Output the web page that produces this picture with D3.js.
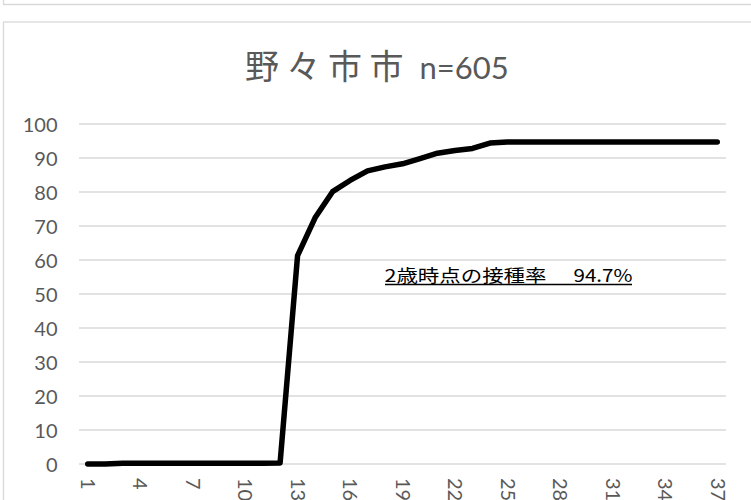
<!DOCTYPE html>
<html>
<head>
<meta charset="utf-8">
<script src="https://cdn.jsdelivr.net/npm/d3@7"></script>
<style>
  html, body { margin: 0; padding: 0; background: #fff; }
  svg { display: block; }
</style>
</head>
<body>
<svg id="chart" width="751" height="500"></svg>
<script>
// ---- data ----
const titleName = "野々市市";
const titleN = "n=605";
const months = d3.range(1, 38).map(String); // categories 1..37
const rates = [
  0, 0, 0.2, 0.2, 0.2, 0.2, 0.2, 0.2, 0.2, 0.2, 0.2, 0.3,
  61.3, 72.4, 80.1, 83.4, 86.2, 87.4, 88.3, 89.8, 91.4, 92.2, 92.8, 94.4,
  94.7, 94.7, 94.7, 94.7, 94.7, 94.7, 94.7, 94.7, 94.7, 94.7, 94.7, 94.7, 94.7
];
const yTicks = [0, 10, 20, 30, 40, 50, 60, 70, 80, 90, 100];
const xTickLabels = ["1","4","7","10","13","16","19","22","25","28","31","34","37"];
const noteLabel = "2歳時点の接種率";
const noteValue = "94.7%";

// ---- drawing ----
const svg = d3.select("#chart");
const grey = "#d9d9d9";
const textCol = "#595959";
const latin = "Lato, 'Noto Sans', sans-serif";
const cjk = "'Noto Sans CJK JP', 'Noto Sans', sans-serif";

svg.append("rect").attr("width", 751).attr("height", 500).attr("fill", "#fff");

// previous chart frame remnant at top
svg.append("path")
  .attr("d", "M3.5,0 V4.5 H760")
  .attr("fill", "none").attr("stroke", grey).attr("stroke-width", 1.3);

// chart frame
svg.append("rect")
  .attr("x", 3.5).attr("y", 22).attr("width", 800).attr("height", 600)
  .attr("fill", "#fff").attr("stroke", grey).attr("stroke-width", 1.3);

const x = d3.scalePoint().domain(months).range([79, 726]).padding(0.5);
const y = d3.scaleLinear().domain([0, 100]).range([464, 124]);

// gridlines
svg.append("g").selectAll("line").data(yTicks).join("line")
  .attr("x1", 79).attr("x2", 726)
  .attr("y1", d => y(d)).attr("y2", d => y(d))
  .attr("stroke", grey).attr("stroke-width", 1.3);

// y axis (labels only)
const yAxis = d3.axisLeft(y).tickValues(yTicks).tickSize(0).tickPadding(0);
const gy = svg.append("g").attr("transform", "translate(57.5,0)").call(yAxis);
gy.select(".domain").remove();
gy.selectAll("text")
  .attr("font-family", latin).attr("font-size", 20).attr("fill", textCol)
  .attr("dy", "0.36em");

// x axis (rotated labels)
const xAxis = d3.axisBottom(x).tickValues(xTickLabels).tickSize(0).tickPadding(0);
const gx = svg.append("g").attr("transform", "translate(0,464)").call(xAxis);
gx.select(".domain").remove();
gx.selectAll("text")
  .attr("font-family", latin).attr("font-size", 20).attr("fill", textCol)
  .attr("text-anchor", "start")
  .attr("transform", "translate(0,14) rotate(90)")
  .attr("x", 0).attr("y", 0).attr("dy", "0.36em");

// line
const line = d3.line()
  .x((d, i) => x(months[i]))
  .y(d => y(d));
svg.append("path")
  .datum(rates)
  .attr("d", line)
  .attr("fill", "none")
  .attr("stroke", "#000")
  .attr("stroke-width", 5.5)
  .attr("stroke-linejoin", "round")
  .attr("stroke-linecap", "round");

// title
const title = svg.append("text").attr("y", 78.5).attr("fill", textCol);
title.append("tspan")
  .attr("x", 245)
  .attr("font-family", cjk).attr("font-size", 34).attr("letter-spacing", 7.5)
  .text(titleName);
title.append("tspan")
  .attr("x", 419.5).attr("y", 79.3)
  .attr("font-family", latin).attr("font-size", 31)
  .text(titleN);

// annotation
svg.append("text")
  .attr("x", 384.5).attr("y", 281.5)
  .attr("font-family", cjk).attr("font-size", 17.5).attr("fill", "#000")
  .attr("textLength", 162).attr("lengthAdjust", "spacingAndGlyphs")
  .text(noteLabel);
svg.append("text")
  .attr("x", 573.5).attr("y", 281.5)
  .attr("font-family", cjk).attr("font-size", 17.5).attr("fill", "#000")
  .attr("textLength", 59).attr("lengthAdjust", "spacingAndGlyphs")
  .text(noteValue);
svg.append("line")
  .attr("x1", 385).attr("x2", 632).attr("y1", 284.5).attr("y2", 284.5)
  .attr("stroke", "#000").attr("stroke-width", 1.5);
</script>
</body>
</html>
